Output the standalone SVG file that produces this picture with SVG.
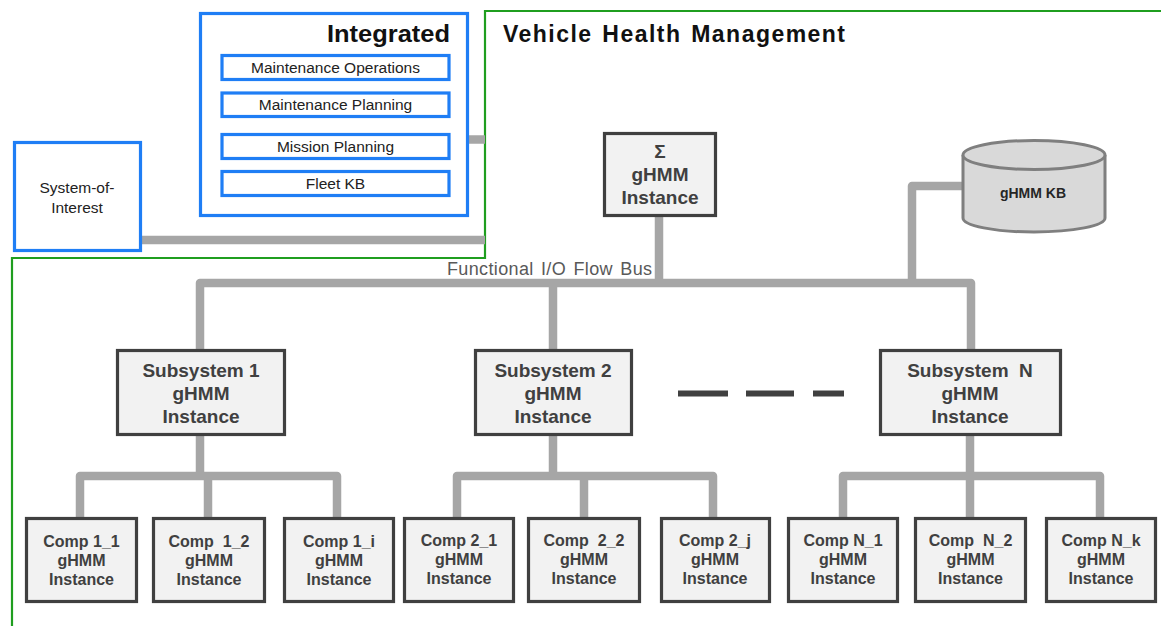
<svg xmlns="http://www.w3.org/2000/svg" width="1161" height="626" viewBox="0 0 1161 626">
<style>
text{font-family:"Liberation Sans",Arial,sans-serif;}
.frame{fill:none;stroke:#1f9e1f;stroke-width:2.2;}
.blue{fill:#fff;stroke:#1f7ef5;stroke-width:3.2;}
.box{fill:#f2f2f2;stroke:#404040;stroke-width:3.2;}
.conn{fill:none;stroke:#a6a6a6;stroke-width:8.5;stroke-linejoin:round;}
.dash{stroke:#404040;stroke-width:6;}
.t-blue{font-size:15.5px;fill:#222;text-anchor:middle;}
.t-node{font-size:19px;font-weight:bold;fill:#404040;text-anchor:middle;}
.t-comp{font-size:16px;font-weight:bold;fill:#404040;text-anchor:middle;white-space:pre;}
.t-title{font-size:23px;font-weight:bold;fill:#111;}
</style>
<rect width="1161" height="626" fill="#ffffff"/>
<g id="frame">
<path class="frame" d="M1161,11 H485 V258 H12 V626"/>
</g>
<g id="connectors">
<path class="conn" d="M142,240 H485"/>
<path class="conn" d="M468,139.5 H485"/>
<path class="conn" d="M200,350 V283 H971 V349"/>
<path class="conn" d="M553,283 V349"/>
<path class="conn" d="M659,217 V283"/>
<path class="conn" d="M963,186 H912 V283"/>
<path class="conn" d="M200,436 V476"/>
<path class="conn" d="M80,517 V476 H337 V517"/>
<path class="conn" d="M208,476 V517"/>
<path class="conn" d="M553,436 V476"/>
<path class="conn" d="M457,517 V476 H713 V517"/>
<path class="conn" d="M584,476 V517"/>
<path class="conn" d="M970,436 V476"/>
<path class="conn" d="M843,517 V476 H1100 V517"/>
<path class="conn" d="M970,476 V517"/>
</g>
<g id="dashes">
<line class="dash" x1="678" y1="393.5" x2="728" y2="393.5"/>
<line class="dash" x1="746" y1="393.5" x2="794" y2="393.5"/>
<line class="dash" x1="813" y1="393.5" x2="844" y2="393.5"/>
</g>
<text class="t-title" x="503" y="42" font-size="24.5" word-spacing="2" textLength="342" lengthAdjust="spacing">Vehicle Health Management</text>
<text x="652" y="275" font-size="18" fill="#595959" text-anchor="end" word-spacing="2" textLength="205" lengthAdjust="spacing">Functional I/O Flow Bus</text>
<g id="integrated">
<rect class="blue" x="200.5" y="13.5" width="267" height="202"/>
<text class="t-title" x="450" y="42" text-anchor="end" font-size="24" textLength="123" lengthAdjust="spacingAndGlyphs">Integrated</text>
<rect class="blue" x="222" y="55.5" width="227" height="24"/>
<text class="t-blue" x="335.5" y="72.5">Maintenance Operations</text>
<rect class="blue" x="222" y="93" width="227" height="23.5"/>
<text class="t-blue" x="335.5" y="110">Maintenance Planning</text>
<rect class="blue" x="222" y="134.5" width="227" height="24"/>
<text class="t-blue" x="335.5" y="151.5">Mission Planning</text>
<rect class="blue" x="222" y="171.5" width="227" height="24"/>
<text class="t-blue" x="335.5" y="188.5">Fleet KB</text>
</g>
<g id="system-of-interest">
<rect class="blue" x="14.5" y="142.5" width="126" height="108"/>
<text class="t-blue" x="77" y="193">System-of-</text>
<text class="t-blue" x="77" y="213">Interest</text>
</g>
<g id="sigma">
<rect class="box" x="604.5" y="133.5" width="111" height="82"/>
<text class="t-node" x="660" y="158">Σ</text>
<text class="t-node" x="660" y="181">gHMM</text>
<text class="t-node" x="660" y="204">Instance</text>
</g>
<g id="kb">
<path d="M963,155 V218 A71,14 0 0 0 1105,218 V155" fill="#d9d9d9" stroke="#7f7f7f" stroke-width="3"/>
<ellipse cx="1034" cy="155" rx="71" ry="14.5" fill="#d9d9d9" stroke="#7f7f7f" stroke-width="3"/>
<text x="1033" y="198" font-size="14" font-weight="bold" fill="#262626" text-anchor="middle">gHMM KB</text>
</g>
<g id="subsystem1">
<rect class="box" x="117.5" y="350.5" width="167" height="84"/>
<text class="t-node" x="201" y="377">Subsystem 1</text>
<text class="t-node" x="201" y="400">gHMM</text>
<text class="t-node" x="201" y="423">Instance</text>
</g>
<g id="subsystem2">
<rect class="box" x="475.5" y="350.5" width="156" height="84"/>
<text class="t-node" x="553" y="377">Subsystem 2</text>
<text class="t-node" x="553" y="400">gHMM</text>
<text class="t-node" x="553" y="423">Instance</text>
</g>
<g id="subsystemN">
<rect class="box" x="880.5" y="350.5" width="180" height="84"/>
<text class="t-node" x="970" y="377" style="white-space:pre">Subsystem  N</text>
<text class="t-node" x="970" y="400">gHMM</text>
<text class="t-node" x="970" y="423">Instance</text>
</g>
<g id="comp1_1">
<rect class="box" x="26.5" y="518.5" width="110" height="83"/>
<text class="t-comp" x="81.5" y="547">Comp 1_1</text><text class="t-comp" x="81.5" y="566">gHMM</text><text class="t-comp" x="81.5" y="585">Instance</text>
</g>
<g id="comp1_2">
<rect class="box" x="153.5" y="518.5" width="111" height="83"/>
<text class="t-comp" x="209" y="547">Comp  1_2</text><text class="t-comp" x="209" y="566">gHMM</text><text class="t-comp" x="209" y="585">Instance</text>
</g>
<g id="comp1_i">
<rect class="box" x="284.5" y="518.5" width="109" height="83"/>
<text class="t-comp" x="339" y="547">Comp 1_i</text><text class="t-comp" x="339" y="566">gHMM</text><text class="t-comp" x="339" y="585">Instance</text>
</g>
<g id="comp2_1">
<rect class="box" x="404.5" y="518.5" width="109" height="83"/>
<text class="t-comp" x="459" y="546">Comp 2_1</text><text class="t-comp" x="459" y="565">gHMM</text><text class="t-comp" x="459" y="584">Instance</text>
</g>
<g id="comp2_2">
<rect class="box" x="528.5" y="518.5" width="111" height="83"/>
<text class="t-comp" x="584" y="546">Comp  2_2</text><text class="t-comp" x="584" y="565">gHMM</text><text class="t-comp" x="584" y="584">Instance</text>
</g>
<g id="comp2_j">
<rect class="box" x="661.5" y="518.5" width="108" height="83"/>
<text class="t-comp" x="715" y="546">Comp 2_j</text><text class="t-comp" x="715" y="565">gHMM</text><text class="t-comp" x="715" y="584">Instance</text>
</g>
<g id="compN_1">
<rect class="box" x="788.5" y="518.5" width="109" height="83"/>
<text class="t-comp" x="843" y="546">Comp N_1</text><text class="t-comp" x="843" y="565">gHMM</text><text class="t-comp" x="843" y="584">Instance</text>
</g>
<g id="compN_2">
<rect class="box" x="915.5" y="518.5" width="110" height="83"/>
<text class="t-comp" x="970.5" y="546">Comp  N_2</text><text class="t-comp" x="970.5" y="565">gHMM</text><text class="t-comp" x="970.5" y="584">Instance</text>
</g>
<g id="compN_k">
<rect class="box" x="1046.5" y="518.5" width="109" height="83"/>
<text class="t-comp" x="1101" y="546">Comp N_k</text><text class="t-comp" x="1101" y="565">gHMM</text><text class="t-comp" x="1101" y="584">Instance</text>
</g>
</svg>
